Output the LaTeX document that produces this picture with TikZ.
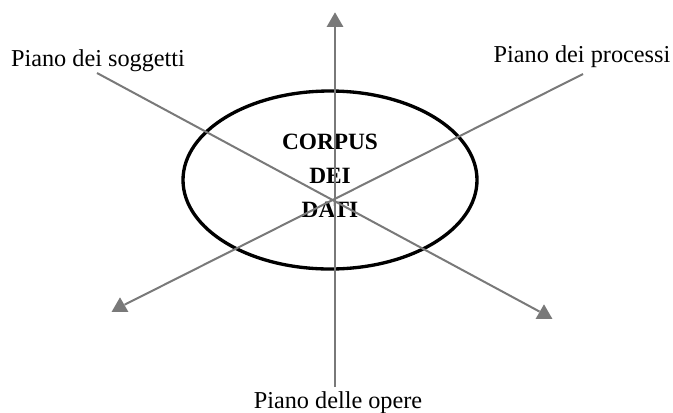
\documentclass[tikz,border=0pt]{standalone}
\usepackage{fontspec}
\setmainfont{Liberation Serif}
\usetikzlibrary{shapes.geometric}

\begin{document}
\begin{tikzpicture}[
    x=0.75pt, y=-0.75pt,
    axis/.style={draw=gray!95!black, line width=1.5pt},
    tiphead/.style={regular polygon, regular polygon sides=3, fill=gray!95!black,
        inner sep=0pt, minimum size=14.5pt},
    plane/.style={font=\fontsize{18.2}{21}\selectfont, anchor=base, inner sep=0pt}
]
\useasboundingbox (0,0) rectangle (673,412);

% Corpus
\draw[line width=2.5pt] (330,180) ellipse [x radius=147, y radius=89];
\node[font=\fontsize{17.5}{25.5}\selectfont\bfseries, align=center, anchor=base]
    (corpus) at (330,217) {CORPUS\\DEI\\DATI};

% Arrow heads
\node[tiphead] (tipT) at (335,22) {};
\node[tiphead] (tipL) at (120,307) {};
\node[tiphead] (tipR) at (544,314) {};

% Axes
\coordinate (endB) at (335,387);
\coordinate (endL) at (97,73);
\coordinate (endR) at (583,74);
\draw[axis] (endB) -- (tipT);
\draw[axis] (endL) -- (tipR);
\draw[axis] (endR) -- (tipL);

% Labels
\node[plane] (soggetti) at (98,66) {Piano dei soggetti};
\node[plane] (processi) at (582,62) {Piano dei processi};
\node[plane] (opere) at (338,408) {Piano delle opere};
\end{tikzpicture}
\end{document}
